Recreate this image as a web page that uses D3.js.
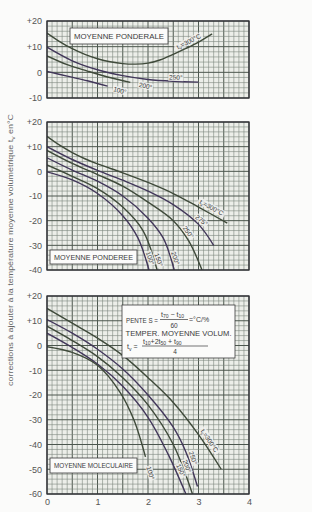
<!DOCTYPE html>
<html>
<head>
<meta charset="utf-8">
<script src="https://cdn.jsdelivr.net/npm/d3@7"></script>
<style>
body { margin: 0; background: #fbfbfa; }
svg { display: block; font-family: "Liberation Sans", "DejaVu Sans", sans-serif; }
</style>
</head>
<body>
<svg id="chart" width="312" height="512"></svg>
<script>
// abscisse : pente S (°C/%)
var xTicks = [0, 1, 2, 3, 4];

// moyenne ponderale
var pondTicks = [20, 10, 0, -10];
var pond300 = [[0,15.3],[0.25,12],[0.5,9.2],[0.75,7],[1,5.3],[1.25,4.1],[1.5,3.4],[1.75,3.2],[2,3.6],[2.25,4.9],[2.5,7],[2.75,9.3],[3,11.8],[3.27,15]];
var pond250 = [[0,9.8],[0.5,4.5],[1,1],[1.5,-1.3],[2,-2.8],[2.5,-3.5],[3,-3.8]];
var pond200 = [[0,6.4],[0.4,3],[0.8,0.5],[1.2,-1.8],[1.65,-3.9]];
var pond100 = [[0,0.4],[0.4,-1.5],[0.8,-3.3],[1.2,-5.4]];

// moyenne ponderee
var pdreeTicks = [20, 10, 0, -10, -20, -30, -40];
var pdree300 = [[0,14.2],[0.25,10.6],[0.5,7.6],[0.75,5.1],[1,3],[1.5,-0.6],[2,-4.5],[2.5,-9],[3,-14.5],[3.57,-21]];
var pdree275 = [[0,10],[0.5,4.8],[1,0.4],[1.5,-3.6],[2,-8],[2.5,-13.5],[3,-21.5],[3.3,-30]];
var pdree250 = [[0,8.5],[0.5,3.2],[1,-1.3],[1.5,-6],[2,-12.5],[2.5,-20],[2.8,-28],[3.07,-40]];
var pdree200 = [[0,5.5],[0.5,0.5],[1,-4],[1.5,-10],[2,-19],[2.3,-27],[2.52,-40]];
var pdree150 = [[0,2.6],[0.5,-2],[1,-7],[1.5,-14.5],[1.9,-24],[2.18,-40]];
var pdree100 = [[0,-0.2],[0.5,-3.5],[1,-9],[1.5,-18],[1.8,-27],[2.02,-40]];

// moyenne moleculaire
var molTicks = [20, 10, 0, -10, -20, -30, -40, -50, -60];
var mol300 = [[0,15],[0.5,9],[1,3],[1.5,-4],[2,-13],[2.5,-23],[3,-36],[3.45,-50]];
var mol250 = [[0,10.5],[0.5,5],[1,-1.5],[1.5,-9.5],[2,-20],[2.5,-33],[2.75,-43],[2.98,-57]];
var mol200 = [[0,7.8],[0.5,2],[1,-4.5],[1.5,-13],[2,-24],[2.5,-40],[2.88,-60]];
var mol150 = [[0,5],[0.5,-0.8],[1,-7.5],[1.5,-16.5],[2,-29],[2.4,-44],[2.75,-60]];
var mol100 = [[0,-0.5],[0.5,-2.8],[1,-8],[1.45,-19],[1.72,-30],[1.95,-45]];

var svg = d3.select("#chart");
var left = 47, right = 249;
var inkA = "#3f4a3a", inkB = "#42375a";

var xScale = d3.scaleLinear().domain([0, 4]).range([left, right]);

var panels = [
	{ id: "p1", title: "MOYENNE PONDERALE", top: 21, bottom: 98, ticks: pondTicks,
	  box: [70, 28, 98, 16],
	  curves: [pond300, pond250, pond200, pond100],
	  labels: [["tv=300°C", 0, 2.85, -5], ["250°", 1, 2.55, -4], ["200°", 2, 1.95, 0], ["100°", 3, 1.45, 1]] },
	{ id: "p2", title: "MOYENNE PONDEREE", top: 122, bottom: 270, ticks: pdreeTicks,
	  box: [50, 250, 87, 14],
	  curves: [pdree300, pdree275, pdree250, pdree200, pdree150, pdree100],
	  labels: [["tv=300°C", 0, 3.2, -6], ["275°", 1, 3.0, -5], ["250°", 2, 2.72, -5], ["200°", 3, 2.45, -5], ["150°", 4, 2.12, -5], ["100°", 5, 1.95, -5]] },
	{ id: "p3", title: "MOYENNE MOLECULAIRE", top: 296, bottom: 494, ticks: molTicks,
	  box: [50, 458, 87, 15],
	  curves: [mol300, mol250, mol200, mol150, mol100],
	  labels: [["tv=300°C", 0, 3.12, -6], ["250°", 1, 2.8, -5], ["200°", 2, 2.68, -5], ["150°", 3, 2.56, -5], ["100°", 4, 2.05, 0]] }
];

// point on a curve at x (linear between read points, extrapolated past the end)
var pointAt = function(data, xv){
	var i = 0;
	while(i < data.length - 2 && data[i+1][0] < xv){ i++; }
	var a = data[i], b = data[i+1];
	var t = (xv - a[0]) / (b[0] - a[0]);
	return { x: xv, y: a[1] + t*(b[1]-a[1]), a: a, b: b };
}

var drawText = function(g, x, y, parts, size, anchor){
	//parts: plain strings, or [str] for a subscript
	var t = g.append("text").attr("x", x).attr("y", y).attr("font-size", size)
		.attr("text-anchor", anchor || "start").attr("fill", "#3a3a3a");
	var low = false;
	parts.forEach(function(p){
		if(typeof p === "string"){
			t.append("tspan").attr("dy", low ? -size*0.25 : 0).text(p);
			low = false;
		} else {
			t.append("tspan").attr("dy", low ? 0 : size*0.25).attr("font-size", size*0.72).text(p[0]);
			low = true;
		}
	});
	return t;
}

panels.forEach(function(p){
	var dom = [p.ticks[p.ticks.length-1], p.ticks[0]];
	var yScale = d3.scaleLinear().domain(dom).range([p.bottom, p.top]);
	var g = svg.append("g");

	g.append("clipPath").attr("id", "clip-" + p.id).append("rect")
		.attr("x", left).attr("y", p.top).attr("width", right-left).attr("height", p.bottom-p.top);

	g.append("rect").attr("x", left).attr("y", p.top).attr("width", right-left).attr("height", p.bottom-p.top)
		.attr("fill", "#eceee9");

	//grid : 0.1 en x, 2 degres en y
	var vx = d3.range(0, 40.5).map(function(k){ return k/10; });
	var hy = d3.range(dom[0], dom[1] + 0.5, 2);
	g.selectAll(".vg").data(vx).enter().append("line")
		.attr("x1", function(d){ return xScale(d); }).attr("x2", function(d){ return xScale(d); })
		.attr("y1", p.top).attr("y2", p.bottom)
		.attr("stroke", function(d, i){ return i % 5 === 0 ? "#4c574e" : "#7c877e"; })
		.attr("stroke-width", function(d, i){ return i % 5 === 0 ? 1 : 0.6; });
	g.selectAll(".hg").data(hy).enter().append("line")
		.attr("y1", function(d){ return yScale(d); }).attr("y2", function(d){ return yScale(d); })
		.attr("x1", left).attr("x2", right)
		.attr("stroke", function(d){ return d % 10 === 0 ? "#4c574e" : "#7c877e"; })
		.attr("stroke-width", function(d){ return d % 10 === 0 ? 1 : 0.6; });

	var line = d3.line().x(function(d){ return xScale(d[0]); }).y(function(d){ return yScale(d[1]); })
		.curve(d3.curveCatmullRom.alpha(0.5));

	g.append("g").attr("clip-path", "url(#clip-" + p.id + ")")
		.selectAll("path").data(p.curves).enter().append("path")
		.attr("d", line).attr("fill", "none")
		.attr("stroke", function(d, i){ return i % 2 ? inkB : inkA; })
		.attr("stroke-width", 1.4);

	//curve labels, turned along the curve
	p.labels.forEach(function(l){
		var pt = pointAt(p.curves[l[1]], l[2]);
		var ang = Math.atan2(yScale(pt.b[1]) - yScale(pt.a[1]), xScale(pt.b[0]) - xScale(pt.a[0])) * 180 / Math.PI;
		var lg = g.append("g").attr("transform", "translate(" + xScale(pt.x) + "," + yScale(pt.y) + ") rotate(" + ang + ")");
		lg.append("rect").attr("x", -l[0].length*1.9).attr("y", l[3] - 3.5).attr("width", l[0].length*3.8).attr("height", 7)
			.attr("fill", "#f3f3f0").attr("opacity", 0.8);
		var parts = l[0].indexOf("tv") === 0 ? ["t", ["v"], l[0].slice(2)] : [l[0]];
		drawText(lg, 0, l[3] + 2.3, parts, 6.5, "middle");
	});

	//frame
	g.append("rect").attr("x", left).attr("y", p.top).attr("width", right-left).attr("height", p.bottom-p.top)
		.attr("fill", "none").attr("stroke", "#2f2f35").attr("stroke-width", 1.3);

	//y axis
	var ax = g.append("g").attr("transform", "translate(" + left + ",0)")
		.call(d3.axisLeft(yScale).tickValues(p.ticks).tickSize(0).tickPadding(5)
			.tickFormat(function(d){ return d > 0 ? "+" + d : "" + d; }));
	ax.select(".domain").remove();
	ax.selectAll("text").attr("font-size", 9).attr("fill", "#555").attr("font-family", "Liberation Sans, DejaVu Sans, sans-serif");

	//name box
	g.append("rect").attr("x", p.box[0]).attr("y", p.box[1]).attr("width", p.box[2]).attr("height", p.box[3])
		.attr("fill", "#fbfbfa").attr("stroke", "#3a3a3a").attr("stroke-width", 0.8);
	g.append("text").attr("x", p.box[0] + p.box[2]/2).attr("y", p.box[1] + p.box[3]/2 + 2.8)
		.attr("text-anchor", "middle").attr("font-size", 7.5).attr("fill", "#3a3a3a")
		.attr("textLength", p.box[2] - 8).attr("lengthAdjust", "spacingAndGlyphs")
		.text(p.title);

	if(p.id === "p3"){
		var xa = g.append("g").attr("transform", "translate(0," + p.bottom + ")")
			.call(d3.axisBottom(xScale).tickValues(xTicks).tickSize(0).tickPadding(5).tickFormat(d3.format("d")));
		xa.select(".domain").remove();
		xa.selectAll("text").attr("font-size", 9).attr("fill", "#555").attr("font-family", "Liberation Sans, DejaVu Sans, sans-serif");

		//formula box
		var fb = g.append("g");
		fb.append("rect").attr("x", 122).attr("y", 305).attr("width", 113).attr("height", 53)
			.attr("fill", "#fbfbfa").attr("stroke", "#3a3a3a").attr("stroke-width", 0.8);
		drawText(fb, 126, 323, ["PENTE S ="], 7, "start").attr("textLength", 32).attr("lengthAdjust", "spacingAndGlyphs");
		drawText(fb, 161, 316.5, ["t", ["70"], " − t", ["10"]], 7, "start");
		fb.append("line").attr("x1", 160).attr("x2", 188).attr("y1", 319.5).attr("y2", 319.5).attr("stroke", "#3a3a3a").attr("stroke-width", 0.7);
		drawText(fb, 174, 327.5, ["60"], 6.5, "middle");
		drawText(fb, 189, 322, ["=°C/%"], 7, "start");
		drawText(fb, 178.5, 336, ["TEMPER. MOYENNE VOLUM."], 7, "middle").attr("textLength", 106).attr("lengthAdjust", "spacingAndGlyphs");
		drawText(fb, 127, 349, ["t", ["v"], " ="], 7, "start");
		drawText(fb, 143, 343.5, ["t", ["10"], "+2t", ["50"], " + t", ["90"]], 7, "start");
		fb.append("line").attr("x1", 142).attr("x2", 208).attr("y1", 346).attr("y2", 346).attr("stroke", "#3a3a3a").attr("stroke-width", 0.7);
		drawText(fb, 175, 354, ["4"], 6.5, "middle");
	}
});

//y title
var yt = svg.append("text").attr("transform", "translate(13,250) rotate(-90)")
	.attr("text-anchor", "middle").attr("font-size", 8).attr("fill", "#666")
	.attr("textLength", 272).attr("lengthAdjust", "spacingAndGlyphs");
yt.append("tspan").text("corrections à ajouter à la température moyenne volumétrique  t");
yt.append("tspan").attr("dy", 2).attr("font-size", 6).text("v");
yt.append("tspan").attr("dy", -2).text(" en°C");
</script>
</body>
</html>
